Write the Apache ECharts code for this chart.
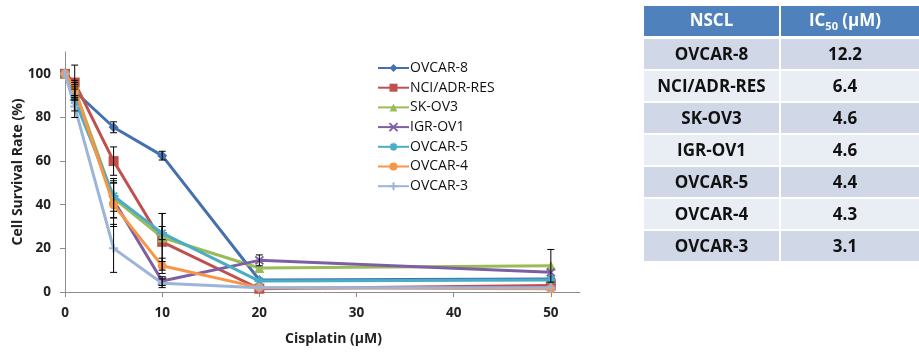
<!DOCTYPE html>
<html>
<head>
<meta charset="utf-8">
<script src="https://cdn.jsdelivr.net/npm/echarts@6/dist/echarts.min.js"></script>
<style>
html,body{margin:0;padding:0;background:#fff;}
#chart{width:919px;height:352px;}
</style>
</head>
<body>
<div id="chart"></div>
<script>
// ---- data ----
const concentrations = [0, 1, 5, 10, 20, 50];
const seriesNames = ['OVCAR-8', 'NCI/ADR-RES', 'SK-OV3', 'IGR-OV1', 'OVCAR-5', 'OVCAR-4', 'OVCAR-3'];
const ovcar8 = [100, 92, 75.5, 62.5, 5.5, 6];
const nciAdrRes = [100, 96, 60, 23, 1.5, 3];
const skOv3 = [100, 93, 43, 25, 11, 12];
const igrOv1 = [100, 91, 42, 5, 14.5, 9];
const ovcar5 = [100, 88, 44, 27, 5, 5.5];
const ovcar4 = [100, 93, 40, 12, 2, 1.5];
const ovcar3 = [100, 85, 20, 4, 2, 2];
const ovcar8Err = [0, 3, 2.5, 2, 0, 0];
const nciAdrResErr = [0, 8, 6.5, 13, 0, 0];
const skOv3Err = [0, 4, 9, 11, 0, 7.5];
const igrOv1Err = [0, 3, 8, 2, 2.5, 0];
const ovcar5Err = [0, 5, 7, 3, 0, 0];
const ovcar4Err = [0, 3, 10, 3.5, 0, 0];
const ovcar3Err = [0, 5, 11, 2, 0, 0];
const xTicks = [0, 10, 20, 30, 40, 50];
const yTicks = [0, 20, 40, 60, 80, 100];
const tableHeader = ['NSCL', 'IC50 (μM)'];
const tableCellLines = ['OVCAR-8', 'NCI/ADR-RES', 'SK-OV3', 'IGR-OV1', 'OVCAR-5', 'OVCAR-4', 'OVCAR-3'];
const tableIC50 = ['12.2', '6.4', '4.6', '4.6', '4.4', '4.3', '3.1'];

// ---- styles ----
const values = [ovcar8, nciAdrRes, skOv3, igrOv1, ovcar5, ovcar4, ovcar3];
const errors = [ovcar8Err, nciAdrResErr, skOv3Err, igrOv1Err, ovcar5Err, ovcar4Err, ovcar3Err];
const colors = ['#4470B0', '#C0504D', '#9BBB59', '#7E5FA3', '#4BACC6', '#F79646', '#9DB4DA'];
const symbols = [
  'diamond', 'rect', 'triangle',
  'path://M0,0L10,10M10,0L0,10',
  'path://M5,0L5,10M0,5L10,5M1.5,1.5L8.5,8.5M8.5,1.5L1.5,8.5',
  'circle',
  'path://M5,0L5,10M0,5L10,5'
];
const symbolSizes = [10, 10, 10, 8, 10, 9, 9];
const FONT = '"Open Sans", "DejaVu Sans", sans-serif';

const series = [];
values.forEach((v, i) => {
  const isPath = symbols[i].indexOf('path://') === 0;
  series.push({
    name: seriesNames[i],
    type: 'line',
    data: concentrations.map((c, j) => [c, v[j]]),
    symbol: symbols[i],
    symbolSize: symbolSizes[i],
    showAllSymbol: true,
    lineStyle: { color: colors[i], width: 3 },
    itemStyle: isPath ? { color: colors[i], borderColor: colors[i], borderWidth: 2 } : { color: colors[i] },
    z: 2 + i,
    animation: false
  });
});
values.forEach((v, i) => {
  series.push({
    name: 'err-' + seriesNames[i],
    type: 'custom',
    data: concentrations.map((c, j) => [c, v[j], errors[i][j]]).filter(d => d[2] > 0),
    renderItem: function (params, api) {
      const x = api.value(0), y = api.value(1), e = api.value(2);
      const top = api.coord([x, y + e]);
      const bot = api.coord([x, y - e]);
      const hw = 3.5;
      const st = { stroke: '#000', lineWidth: 1 };
      return {
        type: 'group',
        children: [
          { type: 'line', shape: { x1: top[0], y1: top[1], x2: bot[0], y2: bot[1] }, style: st },
          { type: 'line', shape: { x1: top[0] - hw, y1: top[1], x2: top[0] + hw, y2: top[1] }, style: st },
          { type: 'line', shape: { x1: bot[0] - hw, y1: bot[1], x2: bot[0] + hw, y2: bot[1] }, style: st }
        ]
      };
    },
    z: 20,
    silent: true,
    animation: false
  });
});

// ---- table graphic ----
const graphic = [];
const tX = 644, tW1 = 135, tGap = 2, tW2 = 919 - (tX + tW1 + tGap);
const tY = 6, rowH = 30, rowStep = 32;
const col1C = tX + tW1 / 2, col2C = tX + tW1 + tGap + 64;
const TFONT = 'bold 17px ' + FONT;
graphic.push({ type: 'rect', shape: { x: tX, y: tY, width: tW1, height: rowH }, style: { fill: '#4F81BD' } });
graphic.push({ type: 'rect', shape: { x: tX + tW1 + tGap, y: tY, width: tW2, height: rowH }, style: { fill: '#4F81BD' } });
graphic.push({ type: 'text', x: col1C, y: tY + rowH / 2, style: { text: tableHeader[0], fill: '#fff', font: TFONT, align: 'center', verticalAlign: 'middle' } });
graphic.push({
  type: 'text', x: col2C, y: tY + rowH / 2,
  style: {
    text: '{n|IC}{s|' + tableHeader[1].slice(2, 4) + '}{n|' + tableHeader[1].slice(4) + '}',
    align: 'center', verticalAlign: 'middle',
    rich: {
      n: { fill: '#fff', font: TFONT, verticalAlign: 'middle', lineHeight: 22 },
      s: { fill: '#fff', font: 'bold 11px ' + FONT, verticalAlign: 'bottom', lineHeight: 22, padding: [7, 0, 0, 0] }
    }
  }
});
tableCellLines.forEach((name, i) => {
  const y = tY + rowStep * (i + 1) + 1;
  const fill = i % 2 === 0 ? '#D0D8E8' : '#E9EDF4';
  graphic.push({ type: 'rect', shape: { x: tX, y: y, width: tW1, height: rowH }, style: { fill: fill } });
  graphic.push({ type: 'rect', shape: { x: tX + tW1 + tGap, y: y, width: tW2, height: rowH }, style: { fill: fill } });
  graphic.push({ type: 'text', x: col1C, y: y + rowH / 2 + 1, style: { text: name, fill: '#111', font: TFONT, align: 'center', verticalAlign: 'middle' } });
  graphic.push({ type: 'text', x: col2C, y: y + rowH / 2 + 1, style: { text: tableIC50[i], fill: '#111', font: TFONT, align: 'center', verticalAlign: 'middle' } });
});

const chart = echarts.init(document.getElementById('chart'), null, { renderer: 'canvas' });
chart.setOption({
  backgroundColor: '#fff',
  animation: false,
  textStyle: { fontFamily: FONT },
  grid: { left: 65, right: 339, top: 52, bottom: 60, containLabel: false, outerBoundsMode: 'none' },
  legend: {
    data: seriesNames,
    orient: 'vertical',
    left: 377,
    top: 61,
    padding: 0,
    itemWidth: 31,
    itemHeight: 10,
    itemGap: 5.7,
    textStyle: { fontFamily: FONT, fontSize: 14, color: '#111', padding: [0, 0, 0, -4] }
  },
  xAxis: {
    type: 'value',
    min: 0,
    max: 53,
    interval: 10,
    name: 'Cisplatin (μM)',
    nameLocation: 'middle',
    nameGap: 40,
    nameMoveOverlap: false,
    nameTextStyle: { fontFamily: FONT, fontSize: 14, fontWeight: 'bold', color: '#222', padding: [0, 0, 0, 22] },
    axisLine: { show: true, lineStyle: { color: '#8C8C8C', width: 1 } },
    axisTick: { show: true, length: 5, lineStyle: { color: '#8C8C8C' }, customValues: xTicks },
    axisLabel: { fontFamily: FONT, fontSize: 13.5, fontWeight: 'bold', color: '#222', margin: 14, customValues: xTicks },
    splitLine: { show: false }
  },
  yAxis: {
    type: 'value',
    min: 0,
    max: 110,
    interval: 20,
    name: 'Cell Survival Rate (%)',
    nameLocation: 'middle',
    nameGap: 40,
    nameMoveOverlap: false,
    nameTextStyle: { fontFamily: FONT, fontSize: 14, fontWeight: 'bold', color: '#222' },
    axisLine: { show: true, lineStyle: { color: '#8C8C8C', width: 1 } },
    axisTick: { show: true, length: 5, lineStyle: { color: '#8C8C8C' }, customValues: yTicks },
    axisLabel: { fontFamily: FONT, fontSize: 13.5, fontWeight: 'bold', color: '#222', margin: 14, customValues: yTicks },
    splitLine: { show: false }
  },
  series: series,
  graphic: graphic
});
</script>
</body>
</html>
